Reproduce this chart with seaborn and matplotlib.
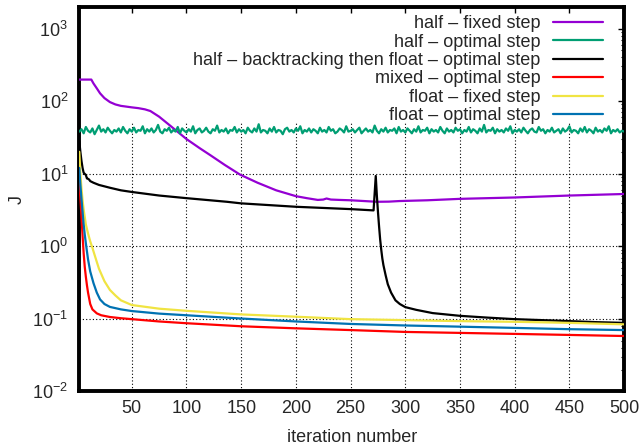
import numpy as np
import pandas as pd
import matplotlib
matplotlib.use("Agg")
import matplotlib.pyplot as plt
import seaborn as sns
from matplotlib.ticker import LogLocator, LogFormatterMathtext, NullFormatter, MultipleLocator

# series labels and colours (gnuplot default palette)
labels = [
    "half \u2013 fixed step",
    "half \u2013 optimal step",
    "half \u2013 backtracking then float \u2013 optimal step",
    "mixed \u2013 optimal step",
    "float \u2013 fixed step",
    "float \u2013 optimal step",
]
colors = ["#9400d3", "#009e73", "#000000", "#ff0000", "#f0e442", "#0072b2"]

# half - fixed step
half_fixed_x = [2, 13, 15, 18, 21, 25, 30, 35, 40, 45, 50, 56, 62, 67, 75, 85, 100, 112, 122,
                135, 149, 165, 182, 200, 210, 220, 225, 228, 232, 240, 250, 262, 274, 285, 295,
                320, 350, 400, 450, 500]
half_fixed_J = [198, 198, 175, 150, 128, 110, 97, 90, 86, 84, 82, 80, 77, 73, 61, 46, 30, 22.5, 17.9,
                13.2, 9.7, 7.5, 5.9, 4.9, 4.6, 4.35, 4.4, 4.55, 4.4, 4.35, 4.3, 4.2, 4.1, 4.12, 4.2,
                4.3, 4.5, 4.7, 5.0, 5.25]

# half - optimal step (noisy, every 2nd iteration)
half_opt_x = list(range(2, 501, 2))
half_opt_J = [
    38, 41, 36, 44, 39, 37, 42, 35, 40, 46, 38, 41, 37, 43, 39, 36, 40, 38, 42, 37, 44, 39, 36, 41, 38,
    43, 37, 40, 39, 45, 36, 41, 38, 42, 37, 40, 47, 38, 36, 41, 39, 43, 37, 40, 38, 44, 36, 42, 39, 37,
    41, 38, 45, 36, 40, 42, 37, 39, 43, 38, 36, 41, 39, 46, 37, 40, 38, 42, 36, 40, 39, 44, 37, 41, 38,
    40, 36, 43, 39, 37, 42, 38, 48, 37, 40, 39, 36, 42, 38, 44, 37, 40, 39, 35, 41, 43, 38, 40, 37, 42,
    39, 45, 36, 40, 38, 42, 37, 41, 39, 36, 43, 38, 40, 37, 44, 39, 41, 36, 38, 42, 40, 37, 45, 38, 39,
    41, 37, 40, 43, 36, 39, 42, 38, 40, 37, 46, 39, 36, 41, 38, 43, 37, 40, 39, 42, 36, 44, 38, 40, 37,
    42, 39, 36, 41, 38, 45, 37, 40, 39, 43, 36, 41, 38, 40, 37, 44, 39, 36, 42, 38, 40, 37, 43, 39, 41,
    36, 40, 38, 44, 37, 41, 39, 36, 42, 38, 47, 37, 40, 39, 43, 36, 41, 38, 40, 37, 42, 39, 45, 36, 40,
    38, 41, 37, 43, 39, 36, 40, 42, 38, 37, 44, 39, 41, 36, 40, 38, 43, 37, 39, 41, 36, 42, 38, 40, 45,
    37, 40, 39, 36, 42, 38, 44, 37, 41, 39, 36, 43, 38, 40, 37, 42, 39, 45, 36, 40, 38, 41, 37, 39, 38,
]

# half - backtracking then float - optimal step
back_x = [2, 3, 4, 5, 6, 8, 9, 10, 11, 12, 15, 20, 30, 40, 50, 75, 100, 137, 150, 200, 250, 271,
          273, 274, 275, 276, 277, 278, 279, 280, 282, 284, 287, 291, 295, 300, 310, 325, 350, 375,
          400, 425, 450, 475, 500]
back_J = [28, 20, 15, 12, 10.3, 9.6, 8.6, 8.5, 8.3, 7.9, 7.5, 7.0, 6.4, 5.9, 5.6, 5.0, 4.6, 4.1, 3.9,
          3.5, 3.25, 3.12, 9.3, 5.0, 3.0, 1.9, 1.25, 0.9, 0.68, 0.55, 0.4, 0.3, 0.23, 0.18, 0.16,
          0.145, 0.133, 0.12, 0.11, 0.104, 0.099, 0.096, 0.093, 0.090, 0.088]

# mixed - optimal step
mixed_x = [2, 3, 4, 5, 6, 7, 8, 9, 10, 12, 14, 18, 22, 30, 40, 50, 75, 100, 150, 200, 250, 300,
           350, 400, 450, 500]
mixed_J = [8, 4.5, 2.6, 1.4, 0.8, 0.52, 0.38, 0.29, 0.23, 0.16, 0.135, 0.119, 0.112, 0.106, 0.102,
           0.099, 0.092, 0.087, 0.079, 0.074, 0.070, 0.066, 0.064, 0.062, 0.060, 0.058]

# float - fixed step
float_fixed_x = [2, 3, 4, 5, 6, 8, 10, 12, 14, 17, 20, 25, 30, 35, 40, 50, 75, 100, 150, 200, 250,
                 300, 350, 400, 450, 500]
float_fixed_J = [20, 10, 6.3, 4.3, 3.2, 2.0, 1.5, 1.17, 0.95, 0.68, 0.49, 0.33, 0.25, 0.21, 0.18,
                 0.155, 0.138, 0.129, 0.115, 0.107, 0.099, 0.096, 0.093, 0.091, 0.088, 0.084]

# float - optimal step
float_opt_x = [2, 3, 4, 5, 6, 7, 8, 9, 10, 12, 15, 18, 21, 25, 30, 40, 50, 75, 100, 150, 200, 250,
               300, 350, 400, 450, 500]
float_opt_J = [12, 7, 4.5, 3.0, 2.0, 1.45, 1.1, 0.85, 0.66, 0.45, 0.31, 0.23, 0.185, 0.16, 0.146,
               0.135, 0.128, 0.118, 0.112, 0.101, 0.092, 0.085, 0.081, 0.078, 0.075, 0.072, 0.070]

xs = [half_fixed_x, half_opt_x, back_x, mixed_x, float_fixed_x, float_opt_x]
ys = [half_fixed_J, half_opt_J, back_J, mixed_J, float_fixed_J, float_opt_J]

df = pd.concat(
    [pd.DataFrame({"iteration": x, "J": y, "series": lab}) for x, y, lab in zip(xs, ys, labels)],
    ignore_index=True,
)

x_ticks = [50, 100, 150, 200, 250, 300, 350, 400, 450, 500]
y_grid = [0.1, 1, 10]

sns.set_style("white")
plt.rcParams["font.family"] = ["Liberation Sans", "DejaVu Sans"]
plt.rcParams["mathtext.default"] = "regular"

fig = plt.figure(figsize=(6.43, 4.46), dpi=100)
ax = fig.add_axes([0.1233, 0.1224, 0.9706 - 0.1233, 0.985 - 0.1224])

sns.lineplot(data=df, x="iteration", y="J", hue="series", hue_order=labels,
             palette=colors, estimator=None, linewidth=1.6, ax=ax, zorder=3)

ax.set_yscale("log")
ax.set_xlim(2, 500)
ax.set_ylim(0.01, 2000)

# dotted grid, hidden behind the key area at the top
for xv in x_ticks[:-1]:
    ax.axvline(xv, ymin=0, ymax=0.70, color="black", lw=0.8, ls=(0, (1, 2)), zorder=1)
for yv in y_grid:
    ax.axhline(yv, color="black", lw=0.8, ls=(0, (1, 2)), zorder=1)

ax.xaxis.set_major_locator(MultipleLocator(50))
ax.yaxis.set_major_locator(LogLocator(base=10, numticks=10))
ax.yaxis.set_minor_locator(LogLocator(base=10, subs=np.arange(2, 10), numticks=20))
ax.yaxis.set_major_formatter(LogFormatterMathtext())
ax.yaxis.set_minor_formatter(NullFormatter())
ax.tick_params(which="both", direction="in", top=True, right=True, labelsize=13, color="black")
ax.tick_params(which="major", length=4.5, width=1)
ax.tick_params(which="minor", length=2.2, width=0.8)
ax.tick_params(axis="y", pad=8)
ax.tick_params(axis="x", pad=6)

for s in ax.spines.values():
    s.set_linewidth(2.8)
    s.set_color("black")

ax.set_xlabel("iteration number", fontsize=13, labelpad=9)
ax.set_ylabel("J", fontsize=13, labelpad=5)

handles, labs = ax.get_legend_handles_labels()
ax.legend(handles, labs, loc="upper right", bbox_to_anchor=(0.962, 0.978), frameon=False,
          markerfirst=False, fontsize=13, handlelength=2.8, handletextpad=0.7,
          labelspacing=0.08, borderpad=0, borderaxespad=0)

fig.savefig("out.png", dpi=100)
